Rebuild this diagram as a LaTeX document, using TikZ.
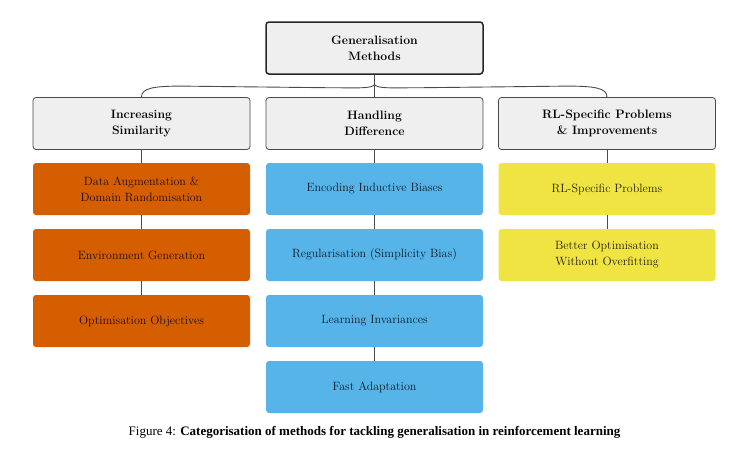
\documentclass[tikz,border=0pt]{standalone}
\usepackage{fontspec}
\newfontfamily\capfont{Liberation Serif}
\usetikzlibrary{calc}
\definecolor{orangeB}{HTML}{D55E00}
\definecolor{blueB}{HTML}{56B4E9}
\definecolor{yellowB}{HTML}{F0E442}
\definecolor{grayB}{HTML}{EFEFEF}
\definecolor{lineC}{HTML}{4A4A4A}
\begin{document}
\begin{tikzpicture}[x=1pt,y=-1pt,
  base/.style={rounded corners=3pt, minimum width=217pt, minimum height=52pt, align=center, inner sep=2pt, font=\fontsize{12}{16}\selectfont},
  topbox/.style={base, draw=black!85, line width=1.5pt, fill=grayB, font=\fontsize{12.2}{16}\selectfont\bfseries},
  catbox/.style={base, draw=lineC, line width=0.8pt, fill=grayB, font=\fontsize{12.2}{16}\selectfont\bfseries},
  orbox/.style={base, fill=orangeB, text=black!85!orangeB},
  blbox/.style={base, fill=blueB, text=black!85!blueB},
  yebox/.style={base, fill=yellowB, text=black!85!yellowB},
  link/.style={draw=lineC, line width=0.9pt}
]
\useasboundingbox (0,0) rectangle (741,466);
\fill[white] (0,0) rectangle (741,466);

\node[topbox] (gm) at (374.5,48) {Generalisation\\Methods};

\node[catbox] (inc) at (141.5,123.5) {Increasing\\Similarity};
\node[catbox] (hd) at (374.5,123.5) {Handling\\Difference};
\node[catbox] (rl) at (607,123.5) {RL-Specific Problems\\\& Improvements};

\node[orbox] (da) at (141.5,189) {Data Augmentation \&\\Domain Randomisation};
\node[orbox] (eg) at (141.5,255) {Environment Generation};
\node[orbox] (oo) at (141.5,321) {Optimisation Objectives};

\node[blbox] (eib) at (374.5,189) {Encoding Inductive Biases};
\node[blbox] (reg) at (374.5,255) {Regularisation (Simplicity Bias)};
\node[blbox] (li) at (374.5,321) {Learning Invariances};
\node[blbox] (fa) at (374.5,387) {Fast Adaptation};

\node[yebox] (rlp) at (607,189) {RL-Specific Problems};
\node[yebox] (bo) at (607,255) {Better Optimisation\\Without Overfitting};

% brace
\draw[link] (gm.south) -- (hd.north);
\coordinate (cusp) at ($(gm.south)+(0,10)$);
\draw[link] (inc.north) .. controls ($(inc.north)+(0,-9)$) and ($(inc.north)+(12,-11)$) .. ($(inc.north)+(40,-11)$)
  -- ($(cusp)+(-45,3)$) .. controls ($(cusp)+(-15,3)$) and ($(cusp)+(-4,4)$) .. (cusp);
\draw[link] (rl.north) .. controls ($(rl.north)+(0,-9)$) and ($(rl.north)+(-12,-11)$) .. ($(rl.north)+(-40,-11)$)
  -- ($(cusp)+(45,3)$) .. controls ($(cusp)+(15,3)$) and ($(cusp)+(4,4)$) .. (cusp);

\draw[link] (inc.south) -- (da.north);
\draw[link] (da.south) -- (eg.north);
\draw[link] (eg.south) -- (oo.north);
\draw[link] (hd.south) -- (eib.north);
\draw[link] (eib.south) -- (reg.north);
\draw[link] (reg.south) -- (li.north);
\draw[link] (li.south) -- (fa.north);
\draw[link] (rl.south) -- (rlp.north);
\draw[link] (rlp.south) -- (bo.north);

\node[font=\capfont\fontsize{13}{15}\selectfont, inner sep=0pt] (cap) at (374.5,432) {Figure 4: \textbf{Categorisation of methods for tackling generalisation in reinforcement learning}};
\end{tikzpicture}
\end{document}
